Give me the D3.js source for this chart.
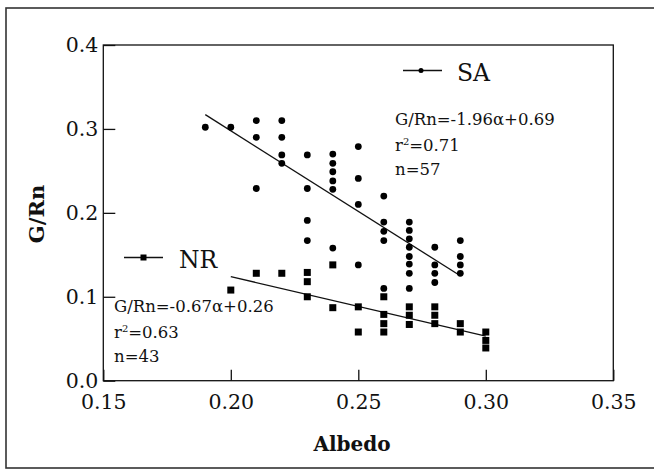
<!DOCTYPE html>
<html>
<head>
<meta charset="utf-8">
<script src="https://cdn.jsdelivr.net/npm/d3@7"></script>
<style>
  body { margin: 0; background: #fff; }
  svg { display: block; font-family: "DejaVu Serif", serif; }
</style>
</head>
<body>
<svg id="chart" width="654" height="470"></svg>
<script>
// SA points (circles)
const saAlbedo = [0.19, 0.20,
  0.21, 0.21, 0.21,
  0.22, 0.22, 0.22, 0.22,
  0.23, 0.23, 0.23, 0.23,
  0.24, 0.24, 0.24, 0.24, 0.24, 0.24,
  0.25, 0.25, 0.25, 0.25,
  0.26, 0.26, 0.26, 0.26, 0.26,
  0.27, 0.27, 0.27, 0.27, 0.27, 0.27, 0.27, 0.27,
  0.28, 0.28, 0.28, 0.28,
  0.29, 0.29, 0.29, 0.29];
const saRatio = [0.302, 0.302,
  0.310, 0.290, 0.229,
  0.310, 0.290, 0.269, 0.259,
  0.269, 0.229, 0.191, 0.167,
  0.270, 0.259, 0.249, 0.238, 0.228, 0.158,
  0.279, 0.241, 0.210, 0.138,
  0.220, 0.189, 0.178, 0.167, 0.110,
  0.189, 0.179, 0.169, 0.159, 0.148, 0.139, 0.128, 0.110,
  0.159, 0.138, 0.128, 0.117,
  0.167, 0.148, 0.138, 0.128];

// NR points (squares)
const nrAlbedo = [0.20, 0.21, 0.22,
  0.23, 0.23, 0.23,
  0.24, 0.24,
  0.25, 0.25,
  0.26, 0.26, 0.26, 0.26,
  0.27, 0.27, 0.27,
  0.28, 0.28, 0.28,
  0.29, 0.29,
  0.30, 0.30, 0.30];
const nrRatio = [0.108, 0.128, 0.128,
  0.129, 0.118, 0.100,
  0.138, 0.087,
  0.088, 0.058,
  0.100, 0.079, 0.068, 0.058,
  0.088, 0.078, 0.067,
  0.088, 0.078, 0.068,
  0.068, 0.058,
  0.058, 0.048, 0.039];

// fitted lines, end points
const saFitX = [0.19, 0.29];
const saFitY = [0.317, 0.125];
const nrFitX = [0.20, 0.30];
const nrFitY = [0.124, 0.053];

const xTicks = [0.15, 0.20, 0.25, 0.30, 0.35];
const yTicks = [0.0, 0.1, 0.2, 0.3, 0.4];

const svg = d3.select("#chart");

// outer frame (right side runs off the picture)
svg.append("rect")
  .attr("x", 6).attr("y", 8)
  .attr("width", 652).attr("height", 460)
  .attr("fill", "none")
  .attr("stroke", "#333")
  .attr("stroke-width", 1.6);

const plotL = 103.3, plotR = 613.3, plotT = 45, plotB = 380.7;

const x = d3.scaleLinear().domain([0.15, 0.35]).range([plotL, plotR]);
const y = d3.scaleLinear().domain([0, 0.4]).range([plotB, plotT]);

// plot box
svg.append("rect")
  .attr("x", plotL).attr("y", plotT)
  .attr("width", plotR - plotL).attr("height", plotB - plotT)
  .attr("fill", "none")
  .attr("stroke", "#111")
  .attr("stroke-width", 1.3);

const xAxis = svg.append("g")
  .attr("transform", `translate(0,${plotB})`)
  .call(d3.axisBottom(x).tickValues(xTicks).tickFormat(d3.format(".2f"))
    .tickSizeInner(-11).tickSizeOuter(0).tickPadding(14));

const yAxis = svg.append("g")
  .attr("transform", `translate(${plotL},0)`)
  .call(d3.axisLeft(y).tickValues(yTicks).tickFormat(d3.format(".1f"))
    .tickSizeInner(-12).tickSizeOuter(0).tickPadding(5));

[xAxis, yAxis].forEach(g => {
  g.select(".domain").remove();
  g.selectAll("line").attr("stroke", "#111").attr("stroke-width", 1.3);
  g.selectAll("text")
    .attr("fill", "#111")
    .style("font-family", "DejaVu Serif, serif")
    .style("font-size", "20.5px");
});

// axis titles
svg.append("text")
  .attr("x", 352).attr("y", 451)
  .attr("text-anchor", "middle")
  .style("font-weight", "bold")
  .style("font-size", "20px")
  .attr("fill", "#111")
  .text("Albedo");

svg.append("text")
  .attr("transform", "translate(44,214) rotate(-90)")
  .attr("text-anchor", "middle")
  .style("font-weight", "bold")
  .style("font-size", "21px")
  .attr("fill", "#111")
  .text("G/Rn");

// regression lines
const line = d3.line().x(d => x(d[0])).y(d => y(d[1]));
svg.append("path")
  .datum(d3.zip(saFitX, saFitY))
  .attr("d", line)
  .attr("fill", "none").attr("stroke", "#111").attr("stroke-width", 1.3);
svg.append("path")
  .datum(d3.zip(nrFitX, nrFitY))
  .attr("d", line)
  .attr("fill", "none").attr("stroke", "#111").attr("stroke-width", 1.3);

// points
svg.append("g").selectAll("circle")
  .data(d3.zip(saAlbedo, saRatio))
  .join("circle")
  .attr("cx", d => x(d[0]))
  .attr("cy", d => y(d[1]))
  .attr("r", 3.4)
  .attr("fill", "#000");

svg.append("g").selectAll("rect")
  .data(d3.zip(nrAlbedo, nrRatio))
  .join("rect")
  .attr("x", d => x(d[0]) - 3.5)
  .attr("y", d => y(d[1]) - 3.5)
  .attr("width", 7).attr("height", 7)
  .attr("fill", "#000");

// legends
const legSA = svg.append("g");
legSA.append("line").attr("x1", 403).attr("x2", 442).attr("y1", 70.5).attr("y2", 70.5)
  .attr("stroke", "#111").attr("stroke-width", 1.5);
legSA.append("circle").attr("cx", 421).attr("cy", 70.5).attr("r", 2.5).attr("fill", "#000");
legSA.append("text").attr("x", 457).attr("y", 80.5)
  .style("font-size", "23.5px").attr("fill", "#111").text("SA");

const legNR = svg.append("g");
legNR.append("line").attr("x1", 124).attr("x2", 163).attr("y1", 257.5).attr("y2", 257.5)
  .attr("stroke", "#111").attr("stroke-width", 1.5);
legNR.append("rect").attr("x", 140.5).attr("y", 254.5).attr("width", 6).attr("height", 6).attr("fill", "#000");
legNR.append("text").attr("x", 179).attr("y", 268)
  .style("font-size", "23.5px").attr("fill", "#111").text("NR");

// regression annotations
function note(x0, y0, eq, r2, n) {
  const g = svg.append("g").style("font-size", "16.5px").attr("fill", "#111");
  g.append("text").attr("x", x0).attr("y", y0).text(eq);
  const t = g.append("text").attr("x", x0).attr("y", y0 + 25.5);
  t.append("tspan").text("r");
  t.append("tspan").attr("dy", -6).style("font-size", "10px").text("2");
  t.append("tspan").attr("dy", 6).text("=" + r2);
  g.append("text").attr("x", x0).attr("y", y0 + 50).text("n=" + n);
}
note(395, 125, "G/Rn=-1.96α+0.69", "0.71", 57);
note(114, 312, "G/Rn=-0.67α+0.26", "0.63", 43);
</script>
</body>
</html>
